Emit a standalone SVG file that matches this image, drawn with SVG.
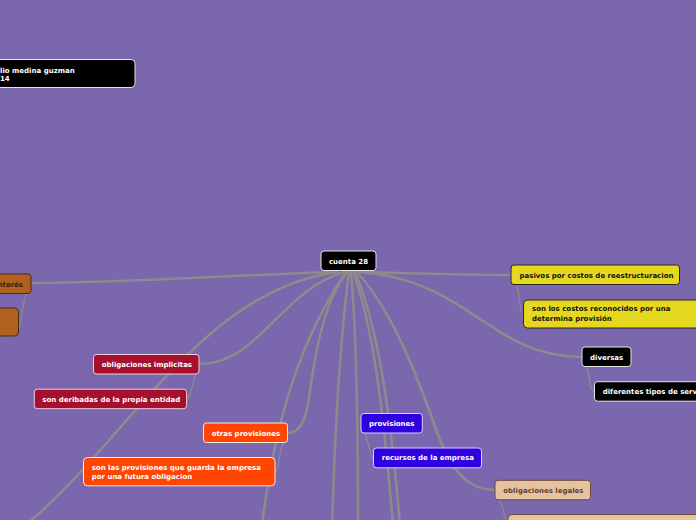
<svg xmlns="http://www.w3.org/2000/svg" width="696" height="520" viewBox="0 0 696 520">
<style>
.t{font-family:"DejaVu Sans","Liberation Sans",sans-serif;font-size:7px;font-weight:bold}
.w{fill:#fff}
.k{fill:#111}
.main{fill:none;stroke:#8c8c8c;stroke-width:2.5;stroke-linecap:round}
.sub{fill:none;stroke:#8c8c8c;stroke-width:1.2}
.blk{fill:#000;stroke:#e6e6e6;stroke-width:1}
.yel{fill:#e6d81e;stroke:#2a2a1a;stroke-width:1}
.red{fill:#a60f2d;stroke:#f0d0d8;stroke-width:1}
.org{fill:#ff4500;stroke:#ffe8dd;stroke-width:1}
.blu{fill:#3000e0;stroke:#d8d0ff;stroke-width:1}
.pch{fill:#e8c1a0;stroke:#6b4c3b;stroke-width:1}
.brn{fill:#b0601f;stroke:#4a2a10;stroke-width:1}
</style>
<rect x="0" y="0" width="696" height="520" fill="#7a67ad"/>
<g id="connectors">
<path class="main" d="M330 272 C220 276 120 283 31 283"/>
<path class="main" d="M365 272 C430 274 470 275 511 275"/>
<path class="main" d="M360 272 C470 280 490 357 582 357"/>
<path class="main" d="M345 272 C280 290 260 364 199 364"/>
<path class="main" d="M338 272 C200 290 130 440 20 530"/>
<path class="main" d="M347 272 C318 310 312 380 308 405 C304 425 298 433 287 433"/>
<path class="main" d="M346 272 C300 340 275 420 262 525"/>
<path class="main" d="M349 272 C340 340 335 430 332 525"/>
<path class="main" d="M351 272 C357 340 358 430 358 525"/>
<path class="main" d="M353 272 C375 330 385 430 393 525"/>
<path class="main" d="M355 272 C380 330 392 430 400 525"/>
<path class="main" d="M357 272 C400 320 425 400 440 440 C455 475 470 490 495 490"/>
<path class="sub" d="M27 293 C22 300 22 325 18 330"/>
<path class="sub" d="M516 284 C520 290 519 313 523 313"/>
<path class="sub" d="M586 366 C590 372 589 391 594 391"/>
<path class="sub" d="M196 374 C192 380 192 399 186 399"/>
<path class="sub" d="M284 443 C278 450 280 471 275 471"/>
<path class="sub" d="M364 433 C370 440 369 458 373 458"/>
<path class="sub" d="M499 500 C505 508 503 520 508 520"/>
</g>
<g id="n-author">
<rect class="blk" x="-20" y="59.5" width="155" height="28" rx="4"/>
<text class="t w" x="0" y="72.5">lio medina guzman</text>
<text class="t w" x="0" y="81">14</text>
</g>
<g id="n-root">
<rect class="blk" x="321" y="251" width="55" height="19.5" rx="3"/>
<text class="t w" x="348.5" y="263.5" text-anchor="middle">cuenta 28</text>
</g>
<g id="n-interes">
<rect class="brn" x="-20" y="274" width="51" height="19.5" rx="3"/>
<text class="t" fill="#3b2010" x="23" y="286.5" text-anchor="end">interés</text>
</g>
<g id="n-interes-child">
<rect class="brn" x="-20" y="308" width="38.5" height="28" rx="4"/>
</g>
<g id="n-pasivos">
<rect class="yel" x="511" y="265" width="168.5" height="19.5" rx="3"/>
<text class="t k" x="519.5" y="277.7">pasivos por costos de reestructuracion</text>
</g>
<g id="n-costos">
<rect class="yel" x="523.5" y="300" width="180" height="28" rx="4"/>
<text class="t k" x="532" y="311">son los costos reconocidos por una</text>
<text class="t k" x="532" y="320.5">determina provisión</text>
</g>
<g id="n-diversas">
<rect class="blk" x="582" y="347" width="49" height="19.5" rx="3"/>
<text class="t w" x="590" y="359.5">diversas</text>
</g>
<g id="n-diferentes">
<rect class="blk" x="594.5" y="381.7" width="120" height="19.5" rx="3"/>
<text class="t w" x="602.7" y="394">diferentes tipos de serv</text>
</g>
<g id="n-implicitas">
<rect class="red" x="93.5" y="354.5" width="105.5" height="19.5" rx="3"/>
<text class="t w" x="101.7" y="367">obligaciones implicitas</text>
</g>
<g id="n-deribadas">
<rect class="red" x="34.3" y="389.2" width="152.3" height="19.5" rx="3"/>
<text class="t w" x="42.3" y="401.8">son deribadas de la propia entidad</text>
</g>
<g id="n-otras">
<rect class="org" x="203.5" y="423" width="84" height="19.5" rx="3"/>
<text class="t w" x="211.7" y="435.8">otras provisiones</text>
</g>
<g id="n-guarda">
<rect class="org" x="83.5" y="457.5" width="191.5" height="28.3" rx="4"/>
<text class="t w" x="91.7" y="469.5">son las provisiones que guarda la empresa</text>
<text class="t w" x="91.7" y="478.7">por una futura obligacion</text>
</g>
<g id="n-provisiones">
<rect class="blu" x="361" y="413.5" width="61.3" height="19.5" rx="3"/>
<text class="t w" x="369" y="426">provisiones</text>
</g>
<g id="n-recursos">
<rect class="blu" x="373.5" y="448" width="108" height="19.8" rx="3"/>
<text class="t w" x="381.7" y="460.3">recursos de la empresa</text>
</g>
<g id="n-legales">
<rect class="pch" x="495" y="480.3" width="95.5" height="19.5" rx="3"/>
<text class="t" fill="#5b4333" x="503.3" y="492.8">obligaciones legales</text>
</g>
<g id="n-legales-child">
<rect class="pch" x="508" y="514.5" width="200" height="28" rx="4"/>
</g>
</svg>
